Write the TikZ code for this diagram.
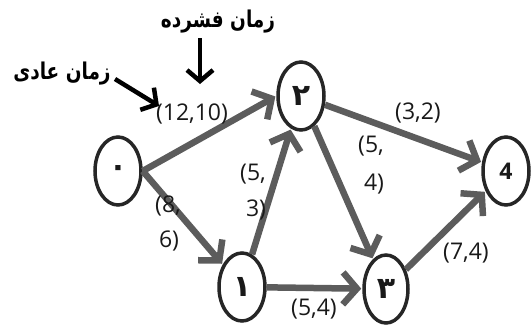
\documentclass[tikz,border=0pt]{standalone}
\usepackage{fontspec}
\setmainfont{Open Sans}
\newfontfamily\fa[Script=Arabic]{DejaVu Sans}
\TeXXeTstate=1
\usetikzlibrary{arrows.meta}
\tikzset{
  ev/.style={draw=black!85, line width=3.5pt, ellipse, inner sep=0pt, minimum width=46pt, minimum height=68pt},
  act/.style={draw=black!64, line width=6.5pt, -{Straight Barb[length=14pt, width=32pt]}, shorten >=1pt},
  pointer/.style={draw=black, line width=4.5pt, -{Straight Barb[length=11pt, width=26pt]}},
  lbl/.style={font=\fontsize{23}{27}\selectfont, text=black!90, inner sep=0pt},
  num/.style={font=\fa\bfseries\fontsize{30}{34}\selectfont, text=black!90},
  fatxt/.style={font=\fa\bfseries\fontsize{18.5}{22}\selectfont, inner sep=0pt}
}
\usetikzlibrary{shapes.geometric}
\begin{document}
\begin{tikzpicture}[x=1pt, y=-1pt]
\useasboundingbox (0,0) rectangle (531,325);
\node[ev] (n0) at (118,171) {};
\node[num] at (n0) {\beginR ۰\endR};
\node[ev] (n2) at (301,96) {};
\node[num] at (n2) {\beginR ۲\endR};
\node[ev] (n4) at (506,171) {};
\node[font=\bfseries\fontsize{23}{26}\selectfont, text=black!90] at (n4) {4};
\node[ev, minimum width=44pt] (n3) at (386,289) {};
\node[num] at (n3) {\beginR ۳\endR};
\node[ev] (n1) at (242,287) {};
\node[num] at (n1) {\beginR ۱\endR};

\draw[act] (n0.east) -- (n2.west);
\draw[act] (n0.east) -- (n1);
\draw[act] (n1) -- (n2);
\draw[act] (n1) -- (n3);
\draw[act] (n2) -- (n3);
\draw[act] (n2) -- (n4);
\draw[act] (n3) -- (n4);

\node[lbl] (l02) at (192,114) {(12,10)};
\node[lbl] (l01a) at (168,206) {(8,};
\node[lbl] (l01b) at (169,241) {6)};
\node[lbl] (l12a) at (253,174) {(5,};
\node[lbl] (l12b) at (256,210) {3)};
\node[lbl] (l23a) at (371,146) {(5,};
\node[lbl] (l23b) at (374,184) {4)};
\node[lbl] (l24) at (418,113) {(3,2)};
\node[lbl] (l34) at (466,253) {(7,4)};
\node[lbl] (l13) at (314,309) {(5,4)};

\node[fatxt] (crash) at (218,22) {\scalebox{1}[1.25]{\beginR زمان فشرده\endR}};
\node[fatxt] (normal) at (62,74) {\scalebox{1}[1.25]{\beginR زمان عادی\endR}};
\coordinate (c1) at (200,38);
\coordinate (c2) at (200,84);
\coordinate (c3) at (115,79);
\coordinate (c4) at (159,106);
\draw[pointer] (c1) -- (c2);
\draw[pointer] (c3) -- (c4);
\end{tikzpicture}
\end{document}
